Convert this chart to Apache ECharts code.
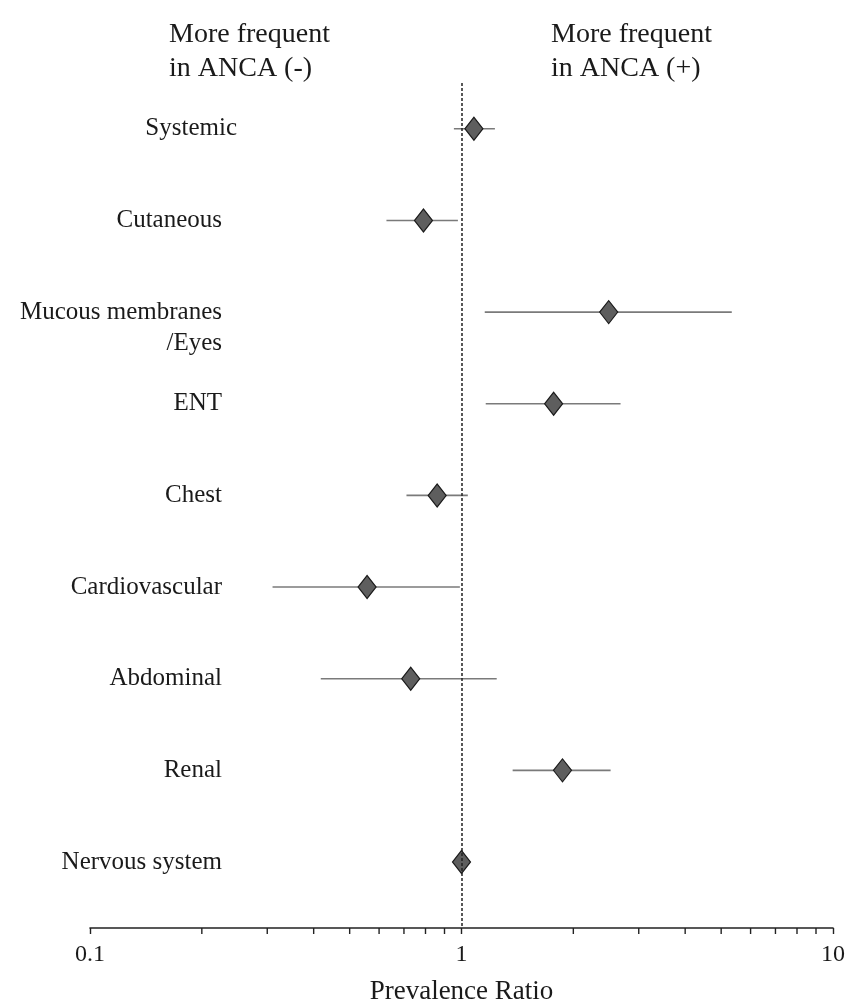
<!DOCTYPE html>
<html>
<head>
<meta charset="utf-8">
<title>Prevalence Ratio</title>
<script src="https://cdn.jsdelivr.net/npm/echarts@6/dist/echarts.min.js"></script>
<style>
  html, body { margin: 0; padding: 0; background: #fff; }
  #chart { width: 845px; height: 1002px; }
</style>
</head>
<body>
<div id="chart"></div>
<script>
// rows, top to bottom
var categories = ['Systemic', 'Cutaneous', 'Mucous membranes\n/Eyes', 'ENT', 'Chest',
                  'Cardiovascular', 'Abdominal', 'Renal', 'Nervous system'];
var ratio   = [1.08, 0.79, 2.49, 1.77, 0.86, 0.557, 0.73, 1.87, 1.0];
var ciLow   = [0.954, 0.628, 1.155, 1.162, 0.711, 0.31, 0.418, 1.373, null];
var ciHigh  = [1.23, 0.978, 5.34, 2.68, 1.04, 0.99, 1.244, 2.52, null];
var minorTicks = [0.2, 0.3, 0.4, 0.5, 0.6, 0.7, 0.8, 0.9, 2, 3, 4, 5, 6, 7, 8, 9];

var FONT = '"Liberation Serif", "Times New Roman", serif';
var Y_MIN = -0.5, Y_MAX = 8.72;

var pointData = ratio.map(function (v, i) { return [v, i]; });
var ciData = [];
ciLow.forEach(function (lo, i) {
  if (lo != null) ciData.push([lo, ciHigh[i], i]);
});

var headStyle = { fontFamily: FONT, fontSize: 28, fontWeight: 'normal', color: '#1a1a1a', lineHeight: 34 };

var chart = echarts.init(document.getElementById('chart'));
chart.setOption({
  animation: false,
  backgroundColor: '#fff',
  title: [
    { text: 'More frequent\nin ANCA (-)', left: 164, top: 13, textStyle: headStyle },
    { text: 'More frequent\nin ANCA (+)', left: 546, top: 13, textStyle: headStyle }
  ],
  grid: { left: 90, right: 12, top: 83, bottom: 74, outerBoundsMode: 'none', containLabel: false },
  xAxis: {
    type: 'log',
    logBase: 10,
    min: 0.1,
    max: 10,
    name: 'Prevalence Ratio',
    nameLocation: 'middle',
    nameGap: 50,
    nameTextStyle: { fontFamily: FONT, fontSize: 27, color: '#1a1a1a' },
    axisLine: { onZero: false, lineStyle: { color: '#222', width: 1.6 } },
    axisTick: { show: true, length: 6, lineStyle: { color: '#222', width: 1.4 } },
    axisLabel: { fontFamily: FONT, fontSize: 24, color: '#1a1a1a', margin: 15 },
    splitLine: { show: false }
  },
  yAxis: {
    type: 'value',
    inverse: true,
    min: Y_MIN,
    max: Y_MAX,
    interval: 0.5,
    axisLine: { show: false },
    axisTick: { show: false },
    splitLine: { show: false },
    axisLabel: {
      margin: -147,
      fontFamily: FONT,
      fontSize: 25,
      color: '#1a1a1a',
      lineHeight: 31,
      showMinLabel: true,
      showMaxLabel: false,
      formatter: function (v) {
        var i = Math.round(v);
        if (Math.abs(v - i) > 1e-6 || i < 0 || i >= categories.length) return '';
        // Systemic sits a little further right in the original
        var lines = categories[i].split('\n').map(function (s) {
          return i === 0 ? s : s + '{sp| }';
        });
        if (lines.length > 1) lines.unshift('');
        return lines.join('\n');
      },
      rich: { sp: { width: 15 } }
    }
  },
  series: [
    {
      type: 'custom',
      name: 'minor ticks',
      clip: false,
      silent: true,
      data: minorTicks,
      renderItem: function (params, api) {
        var p = api.coord([api.value(0), Y_MAX]);
        return {
          type: 'line',
          shape: { x1: p[0], y1: p[1], x2: p[0], y2: p[1] + 6 },
          style: { stroke: '#222', lineWidth: 1.4 }
        };
      }
    },
    {
      type: 'custom',
      name: 'CI',
      silent: true,
      data: ciData,
      renderItem: function (params, api) {
        var a = api.coord([api.value(0), api.value(2)]);
        var b = api.coord([api.value(1), api.value(2)]);
        return {
          type: 'line',
          shape: { x1: a[0], y1: a[1], x2: b[0], y2: b[1] },
          style: { stroke: '#7a7a7a', lineWidth: 1.6 }
        };
      },
      z: 2
    },
    {
      type: 'scatter',
      name: 'Prevalence ratio',
      data: pointData,
      symbol: 'diamond',
      symbolSize: [18, 23],
      itemStyle: { color: '#5e5e5e', borderColor: '#1a1a1a', borderWidth: 1.2, opacity: 1 },
      z: 4,
      markLine: {
        silent: true,
        symbol: 'none',
        label: { show: false },
        lineStyle: { color: '#222', type: [3, 2], width: 1.5 },
        data: [{ xAxis: 1 }]
      }
    }
  ]
});
</script>
</body>
</html>
